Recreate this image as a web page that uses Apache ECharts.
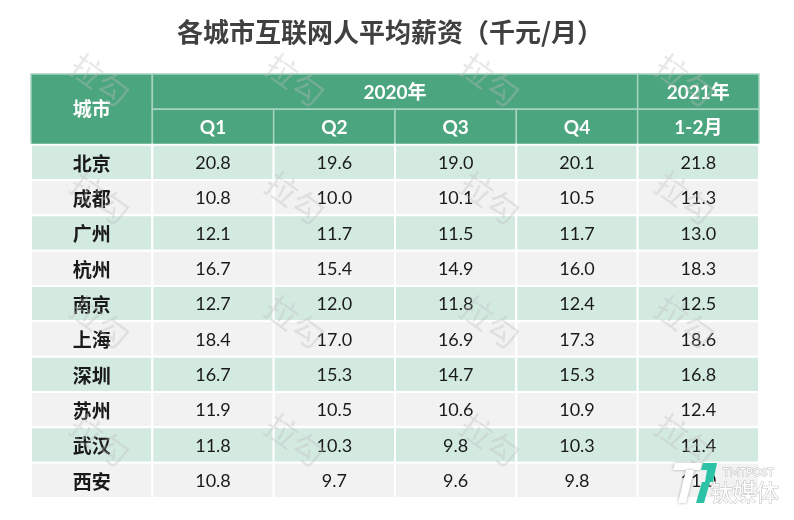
<!DOCTYPE html>
<html>
<head>
<meta charset="utf-8">
<script src="https://cdn.jsdelivr.net/npm/echarts@6/dist/echarts.min.js"></script>
<style>
  html, body { margin: 0; padding: 0; background: #fff; }
  #main { width: 794px; height: 520px; }
</style>
</head>
<body>
<div id="main"></div>
<script>
  // table data (千元/月)
  var cities = ['北京', '成都', '广州', '杭州', '南京', '上海', '深圳', '苏州', '武汉', '西安'];
  var q1 = [20.8, 10.8, 12.1, 16.7, 12.7, 18.4, 16.7, 11.9, 11.8, 10.8];
  var q2 = [19.6, 10.0, 11.7, 15.4, 12.0, 17.0, 15.3, 10.5, 10.3, 9.7];
  var q3 = [19.0, 10.1, 11.5, 14.9, 11.8, 16.9, 14.7, 10.6, 9.8, 9.6];
  var q4 = [20.1, 10.5, 11.7, 16.0, 12.4, 17.3, 15.3, 10.9, 10.3, 9.8];
  var m2021 = [21.8, 11.3, 13.0, 18.3, 12.5, 18.6, 16.8, 12.4, 11.4, 11.0];

  var cityHead = '城市';
  var yearLabels = ['2020年', '2021年'];
  var quarterLabels = ['Q1', 'Q2', 'Q3', 'Q4'];
  var monthLabel = '1-2月';

  var HEAD = '#4ba57e';
  var HEAD_LINE = '#a6d4bf';
  var ROW_A = '#d3eae0';
  var ROW_B = '#f2f2f2';

  // cells: [col0, row0, col1, row1, text, kind, rowIndex]
  var cells = [];
  cells.push([0, 0, 1, 2, cityHead, 'head', -1]);
  cells.push([1, 0, 5, 1, yearLabels[0], 'head', -1]);
  cells.push([5, 0, 6, 1, yearLabels[1], 'head', -1]);
  quarterLabels.forEach(function (q, i) {
    cells.push([1 + i, 1, 2 + i, 2, q, 'head', -1]);
  });
  cells.push([5, 1, 6, 2, monthLabel, 'head', -1]);

  var cols = [q1, q2, q3, q4, m2021];
  cities.forEach(function (c, i) {
    var r = 2 + i;
    cells.push([0, r, 1, r + 1, c, 'city', i]);
    cols.forEach(function (arr, j) {
      cells.push([1 + j, r, 2 + j, r + 1, arr[i].toFixed(1), 'num', i]);
    });
  });

  function renderItem(params, api) {
    var cell = cells[params.dataIndex];
    var p0 = api.coord([cell[0], cell[1]]);
    var p1 = api.coord([cell[2], cell[3]]);
    var x = Math.min(p0[0], p1[0]);
    var y = Math.min(p0[1], p1[1]);
    var w = Math.abs(p1[0] - p0[0]);
    var h = Math.abs(p1[1] - p0[1]);
    var kind = cell[5];
    var fill, stroke, lw, color, weight, family, size;
    if (kind === 'head') {
      fill = HEAD; stroke = HEAD_LINE; lw = 1.5;
      color = '#ffffff'; weight = 'bold'; size = 19;
      family = 'Lato, "Noto Sans CJK SC", sans-serif';
    } else {
      fill = cell[6] % 2 === 0 ? ROW_A : ROW_B;
      stroke = '#ffffff'; lw = 2;
      color = '#1a1a1a';
      weight = kind === 'city' ? 'bold' : 'normal';
      size = kind === 'city' ? 19 : 18;
      family = kind === 'city' ? '"Noto Sans CJK SC", sans-serif' : 'Lato, "Noto Sans CJK SC", sans-serif';
    }
    return {
      type: 'group',
      children: [
        {
          type: 'rect',
          shape: { x: x, y: y, width: w, height: h },
          style: { fill: fill, stroke: stroke, lineWidth: lw }
        },
        {
          type: 'text',
          style: {
            x: x + w / 2,
            y: y + h / 2 + 1,
            text: cell[4],
            fill: color,
            fontSize: size,
            fontWeight: weight,
            fontFamily: family,
            align: 'center',
            verticalAlign: 'middle'
          }
        }
      ]
    };
  }

  // watermark "拉勾" grid
  var markX = [100, 295, 490, 685];
  var markY = [80, 198, 322, 440];
  var marks = [];
  markY.forEach(function (my) {
    markX.forEach(function (mx) {
      marks.push({
        type: 'text',
        x: mx,
        y: my,
        rotation: -Math.PI / 5,
        z: 100,
        silent: true,
        style: {
          text: '拉勾',
          fontSize: 32,
          fontFamily: '"Noto Sans CJK SC", sans-serif',
          fill: 'rgba(190,190,190,0.35)',
          align: 'center',
          verticalAlign: 'middle'
        }
      });
    });
  });

  // TMTPOST logo
  var shade = { shadowBlur: 3, shadowColor: 'rgba(0,0,0,0.35)' };
  var edge = { stroke: 'rgba(150,150,150,0.6)', lineWidth: 1 };
  var logo = [
    {
      type: 'polygon', z: 110, silent: true,
      shape: { points: [[675, 463], [702, 463], [700, 470], [673, 470]] },
      style: Object.assign({ fill: '#ffffff' }, shade)
    },
    {
      type: 'polygon', z: 110, silent: true,
      shape: { points: [[686, 470], [694, 470], [686, 503], [678, 503]] },
      style: Object.assign({ fill: '#ffffff' }, shade)
    },
    {
      type: 'polygon', z: 111, silent: true,
      shape: { points: [[703, 463], [717, 463], [713, 482], [705, 482], [707, 470], [701, 470]] },
      style: { fill: '#2cc2a6' }
    },
    {
      type: 'polygon', z: 111, silent: true,
      shape: { points: [[702, 482], [710, 482], [704, 503], [696, 503]] },
      style: { fill: '#2cc2a6' }
    },
    {
      type: 'text', z: 110, silent: true, x: 723, y: 467,
      style: Object.assign({
        text: 'TMTPOST', fontSize: 11, fontFamily: 'Lato, sans-serif',
        fill: '#ffffff'
      }, edge)
    },
    {
      type: 'text', z: 110, silent: true, x: 710, y: 481,
      style: Object.assign({
        text: '钛媒体', fontSize: 23,
        fontFamily: '"Noto Sans CJK SC", sans-serif',
        fill: '#ffffff'
      }, edge)
    }
  ];

  var myChart = echarts.init(document.getElementById('main'));
  myChart.setOption({
    backgroundColor: '#ffffff',
    animation: false,
    title: {
      text: '各城市互联网人平均薪资（千元/月）',
      left: 172,
      top: 14,
      textStyle: {
        fontSize: 26,
        fontWeight: 'bold',
        color: '#404040',
        fontFamily: '"Noto Sans CJK SC", sans-serif'
      }
    },
    grid: { left: 31, right: 35, top: 74, bottom: 22 },
    xAxis: { type: 'value', min: 0, max: 6, show: false },
    yAxis: { type: 'value', min: 0, max: 12, inverse: true, show: false },
    graphic: marks.concat(logo),
    series: [
      {
        type: 'custom',
        renderItem: renderItem,
        data: cells.map(function (c) { return [c[0], c[1], c[2], c[3]]; }),
        encode: { x: [0, 2], y: [1, 3] },
        silent: true
      }
    ]
  });
</script>
</body>
</html>
